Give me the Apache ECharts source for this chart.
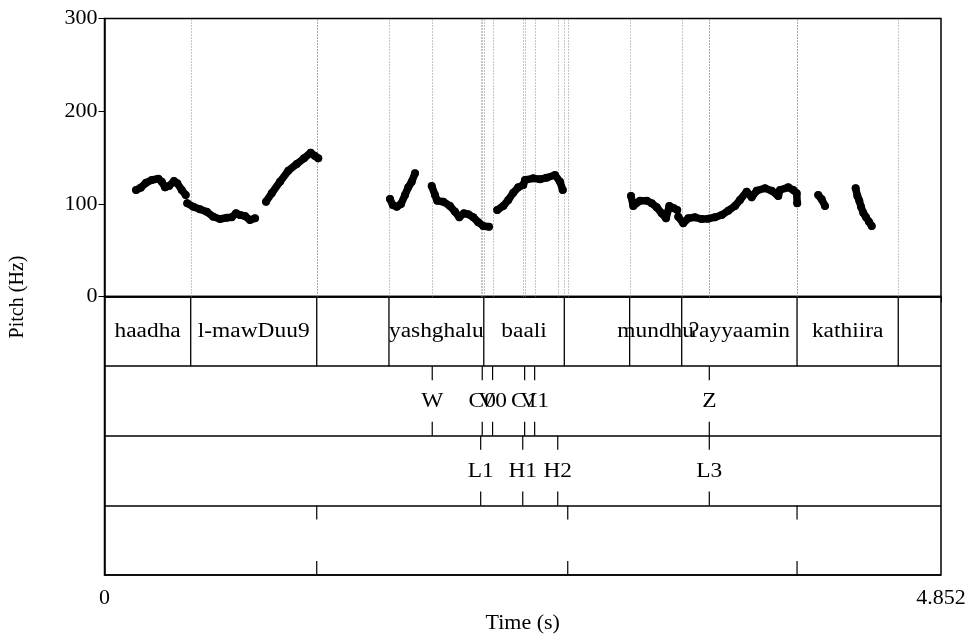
<!DOCTYPE html>
<html>
<head>
<meta charset="utf-8">
<script src="https://cdn.jsdelivr.net/npm/echarts@6/dist/echarts.min.js"></script>
<style>
  html, body { margin: 0; padding: 0; background: #fff; }
  #chart { width: 968px; height: 637px; }
</style>
</head>
<body>
<div id="chart"></div>
<script>
// pitch track, one array per voiced stretch: [time (s), pitch (Hz)]
let pitchHaadha = [[0.183,114.9],[0.210,117.4],[0.241,122.8],[0.274,125.7],[0.312,127.1],[0.332,123.9],[0.351,117.8],[0.374,119.2],[0.403,124.6],[0.422,122.2],[0.448,114.9],[0.471,109.5]];
let pitchMawduu = [[0.480,100.6],[0.515,96.9],[0.554,94.1],[0.593,91.5],[0.631,86.1],[0.670,83.6],[0.709,85.0],[0.738,85.5],[0.763,89.8],[0.786,87.9],[0.815,86.9],[0.844,82.5],[0.873,84.4]];
let pitchMawduu2 = [[0.937,102.3],[0.970,111.4],[1.018,123.9],[1.066,135.8],[1.115,143.0],[1.157,149.1],[1.196,155.2],[1.221,151.6],[1.240,149.1]];
let pitchYash = [[1.656,105.2],[1.672,98.7],[1.695,96.9],[1.720,99.8],[1.743,109.5],[1.762,117.8],[1.782,123.9],[1.801,132.9]];
let pitchYash2 = [[1.898,119.2],[1.917,109.5],[1.930,103.4],[1.965,102.3],[2.004,97.7],[2.033,91.5],[2.058,85.5],[2.085,89.8],[2.110,88.7],[2.139,85.5],[2.168,80.1],[2.197,76.1],[2.230,75.3]];
let pitchBaali = [[2.278,93.3],[2.313,97.7],[2.342,104.1],[2.371,112.0],[2.400,117.8],[2.429,120.3],[2.439,125.7],[2.487,127.5],[2.526,126.5],[2.565,128.2],[2.613,131.1],[2.642,123.9],[2.658,114.9]];
let pitchMundhu = [[3.054,108.5],[3.067,97.7],[3.106,103.4],[3.145,103.4],[3.174,100.6],[3.203,96.3],[3.232,89.8],[3.257,84.4],[3.276,97.7],[3.303,95.2],[3.322,93.3]];
let pitchAyyaamin = [[3.328,86.1],[3.357,79.0],[3.386,84.4],[3.425,85.5],[3.464,83.6],[3.502,84.0],[3.541,85.5],[3.580,87.9],[3.618,92.6],[3.657,97.7],[3.686,104.1],[3.725,113.1],[3.754,107.0],[3.783,114.2],[3.831,116.8],[3.870,114.2],[3.908,108.5],[3.918,114.9],[3.966,117.8],[3.995,114.9],[4.015,111.4],[4.018,100.6]];
let pitchKath = [[4.140,109.5],[4.160,104.9],[4.179,97.7]];
let pitchKath2 = [[4.357,116.8],[4.367,108.5],[4.378,103.4],[4.388,96.9],[4.401,90.4],[4.417,85.5],[4.434,80.7],[4.450,76.1]];

let pitchSegments = [pitchHaadha, pitchMawduu, pitchMawduu2, pitchYash, pitchYash2, pitchBaali, pitchMundhu, pitchAyyaamin, pitchKath, pitchKath2];

// tier 1: words (interval tier)
let wordBounds = [0, 0.500, 1.231, 1.650, 2.200, 2.667, 3.046, 3.348, 4.017, 4.604, 4.852];
let wordLabels = ['haadha', 'l-mawDuu9', '', 'yashghalu', 'baali', '', 'mundhu', '\u0294ayyaamin', 'kathiira', ''];

// tier 2 and 3: point tiers
let tier2Times = [1.901, 2.191, 2.251, 2.437, 2.495, 3.508];
let tier2Labels = ['W', 'C0', 'V0', 'C1', 'V1', 'Z'];
let tier3Times = [2.182, 2.426, 2.629, 3.508];
let tier3Labels = ['L1', 'H1', 'H2', 'L3'];

// tier 4: unlabelled marks
let tier4Times = [1.231, 2.687, 4.017];

let timeMax = 4.852;
let pitchTicks = [0, 100, 200, 300];

let FONT = 'Liberation Serif';
let FS = 22;
// praat text comes out a bit wide, so tier labels get stretched
let TIER_FS = 20;
let STRETCH = 1.17;

let allMarks = wordBounds.slice(1, -1).concat(tier2Times, tier3Times, tier4Times);

let myChart = echarts.init(document.getElementById('chart'));

function renderDotted(params, api) {
	let a = api.coord([api.value(0), 0]);
	let b = api.coord([api.value(0), 300]);
	return {
		type: 'line',
		shape: { x1: Math.round(a[0]) + 0.5, y1: a[1], x2: Math.round(a[0]) + 0.5, y2: b[1] },
		style: { stroke: '#8a8a8a', lineWidth: 1, lineDash: [1, 2] }
	};
}

function renderWordBound(params, api) {
	let a = api.coord([api.value(0), 0]);
	let b = api.coord([api.value(0), 1]);
	return {
		type: 'line',
		shape: { x1: a[0], y1: a[1], x2: b[0], y2: b[1] },
		style: { stroke: '#000', lineWidth: 1.3 }
	};
}

function tierText(txt, c) {
	return {
		type: 'text',
		x: c[0], y: c[1], scaleX: STRETCH,
		style: { text: txt, fontFamily: FONT, fontSize: TIER_FS, fill: '#000', align: 'center', verticalAlign: 'middle' }
	};
}

function renderWordLabel(params, api) {
	let i = params.dataIndex;
	let c = api.coord([(wordBounds[i] + wordBounds[i + 1]) / 2, 0.5]);
	return tierText(wordLabels[i], c);
}

function pointRenderer(tier, labels) {
	return function(params, api) {
		let t = api.value(0);
		let top = api.coord([t, tier]);
		let bot = api.coord([t, tier + 1]);
		let mid = api.coord([t, tier + 0.5]);
		let kids = [
			{ type: 'line', shape: { x1: top[0], y1: top[1], x2: top[0], y2: top[1] + 14 }, style: { stroke: '#000', lineWidth: 1.2 } },
			{ type: 'line', shape: { x1: bot[0], y1: bot[1] - 14, x2: bot[0], y2: bot[1] }, style: { stroke: '#000', lineWidth: 1.2 } }
		];
		if (labels) {
			kids.push(tierText(labels[params.dataIndex], [mid[0], mid[1] + 1]));
		}
		return { type: 'group', children: kids };
	};
}

let series = [];

series.push({
	type: 'custom',
	xAxisIndex: 0,
	yAxisIndex: 0,
	renderItem: renderDotted,
	data: allMarks.map(t => [t]),
	silent: true,
	z: 1
});

pitchSegments.forEach(seg => {
	series.push({
		type: 'line',
		xAxisIndex: 0,
		yAxisIndex: 0,
		data: seg,
		symbol: 'circle',
		symbolSize: 8,
		showSymbol: true,
		lineStyle: { color: '#000', width: 7.5, cap: 'round', join: 'round' },
		itemStyle: { color: '#000' },
		z: 3
	});
});

series.push({
	type: 'custom',
	xAxisIndex: 1,
	yAxisIndex: 1,
	renderItem: renderWordBound,
	data: wordBounds.slice(1, -1).map(t => [t]),
	silent: true
});

series.push({
	type: 'custom',
	xAxisIndex: 1,
	yAxisIndex: 1,
	renderItem: renderWordLabel,
	data: wordLabels.map((l, i) => [wordBounds[i]]),
	silent: true
});

series.push({
	type: 'custom', xAxisIndex: 1, yAxisIndex: 1,
	renderItem: pointRenderer(1, tier2Labels),
	data: tier2Times.map(t => [t]), silent: true
});
series.push({
	type: 'custom', xAxisIndex: 1, yAxisIndex: 1,
	renderItem: pointRenderer(2, tier3Labels),
	data: tier3Times.map(t => [t]), silent: true
});
series.push({
	type: 'custom', xAxisIndex: 1, yAxisIndex: 1,
	renderItem: pointRenderer(3, null),
	data: tier4Times.map(t => [t]), silent: true
});

let option = {
	animation: false,
	backgroundColor: '#fff',
	textStyle: { fontFamily: FONT, color: '#000' },
	grid: [
		{ left: 104.5, top: 18.5, width: 836.5, height: 278, show: true, borderColor: '#000', borderWidth: 1.5, outerBoundsMode: 'none' },
		{ left: 104.5, top: 296.5, width: 836.5, height: 278.5, show: true, borderColor: '#000', borderWidth: 1.5, outerBoundsMode: 'none' }
	],
	xAxis: [
		{
			gridIndex: 0, type: 'value', min: 0, max: timeMax,
			axisLine: { show: false }, axisTick: { show: false }, axisLabel: { show: false }, splitLine: { show: false }
		},
		{
			gridIndex: 1, type: 'value', min: 0, max: timeMax, interval: timeMax,
			axisLine: { show: true, lineStyle: { color: '#000', width: 1.5 } },
			axisTick: { show: true, length: 6, lineStyle: { color: '#000' } },
			axisLabel: {
				margin: 12, fontSize: FS, fontFamily: FONT, color: '#000',
				formatter: v => (v === 0 ? '0' : String(timeMax))
			},
			splitLine: { show: false },
			name: 'Time (s)', nameLocation: 'middle', nameGap: 37,
			nameTextStyle: { fontSize: FS, fontFamily: FONT, color: '#000' }
		}
	],
	yAxis: [
		{
			gridIndex: 0, type: 'value', min: pitchTicks[0], max: pitchTicks[pitchTicks.length - 1], interval: 100,
			axisLine: { show: true, lineStyle: { color: '#000', width: 1.5 } },
			axisTick: { show: true, length: 6, lineStyle: { color: '#000' } },
			axisLabel: { margin: 7, fontSize: FS, fontFamily: FONT, color: '#000' },
			splitLine: { show: false }
		},
		{
			gridIndex: 1, type: 'value', min: 0, max: 4, interval: 1, inverse: true,
			axisLine: { show: true, lineStyle: { color: '#000', width: 1.5 } },
			axisTick: { show: false }, axisLabel: { show: false },
			splitLine: { show: true, lineStyle: { color: '#000', width: 1.5 } }
		}
	],
	graphic: [
		{
			type: 'text', x: 18, y: 297, rotation: Math.PI / 2,
			style: { text: 'Pitch (Hz)', fontFamily: FONT, fontSize: 20, fill: '#000', align: 'center', verticalAlign: 'middle' }
		}
	],
	series: series
};

myChart.setOption(option);
</script>
</body>
</html>
